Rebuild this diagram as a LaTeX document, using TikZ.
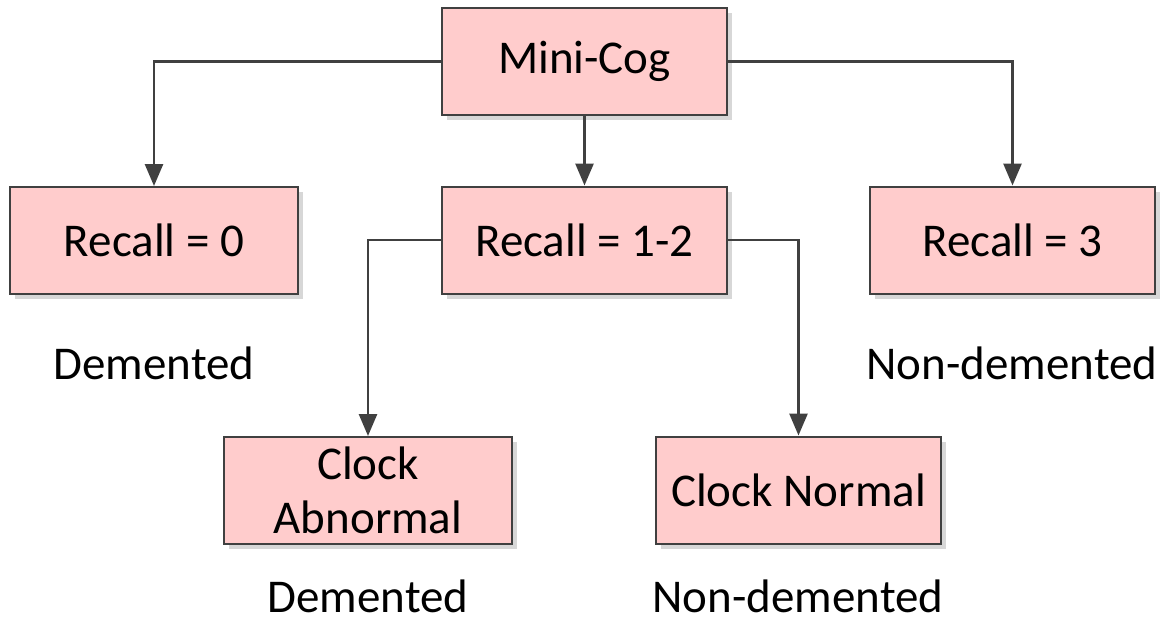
\documentclass[tikz,border=0pt]{standalone}
\usepackage{fontspec}
\setmainfont{Carlito}
\usetikzlibrary{arrows.meta,shadows}
\definecolor{boxfill}{HTML}{FFCCCC}
\definecolor{boxline}{HTML}{404040}
\definecolor{linec}{HTML}{404040}
\begin{document}
\begin{tikzpicture}[x=0.5pt,y=-0.5pt,
  box/.style={draw=boxline,line width=1pt,fill=boxfill,minimum width=142.5pt,minimum height=53.5pt,
    font=\fontsize{23.5}{27}\selectfont,align=center,inner sep=0pt,
    drop shadow={shadow xshift=2.5pt,shadow yshift=-2.5pt,fill=black!35,opacity=0.45}},
  lbl/.style={font=\fontsize{23.5}{27}\selectfont,inner sep=0pt},
  conn/.style={draw=linec,line width=1.4pt,-{Triangle[length=11pt,width=9pt]}}]
\useasboundingbox (0,0) rectangle (1168,621);
\node[box] (mini) at (584.5,61.5) {Mini-Cog};
\node[box,minimum width=144pt] (r0) at (154,240.5) {Recall = 0};
\node[box] (r12) at (584.5,240) {Recall = 1-2};
\node[box] (r3) at (1012.5,240) {Recall = 3};
\node[box,minimum width=144pt] (ca) at (368,490.5) {Clock\\Abnormal};
\node[box] (cn) at (798.5,490) {Clock Normal};
\node[lbl] (d1) at (154,363) {Demented};
\node[lbl] (n1) at (1012,363) {Non-demented};
\node[lbl] (d2) at (368,596) {Demented};
\node[lbl] (n2) at (798,596) {Non-demented};
\draw[conn] (mini.west) -| (r0.north);
\draw[conn] (mini.south) -- (r12.north);
\draw[conn] (mini.east) -| (r3.north);
\draw[conn] (r12.west) -| (ca.north);
\draw[conn] (r12.east) -| (cn.north);
\end{tikzpicture}
\end{document}
